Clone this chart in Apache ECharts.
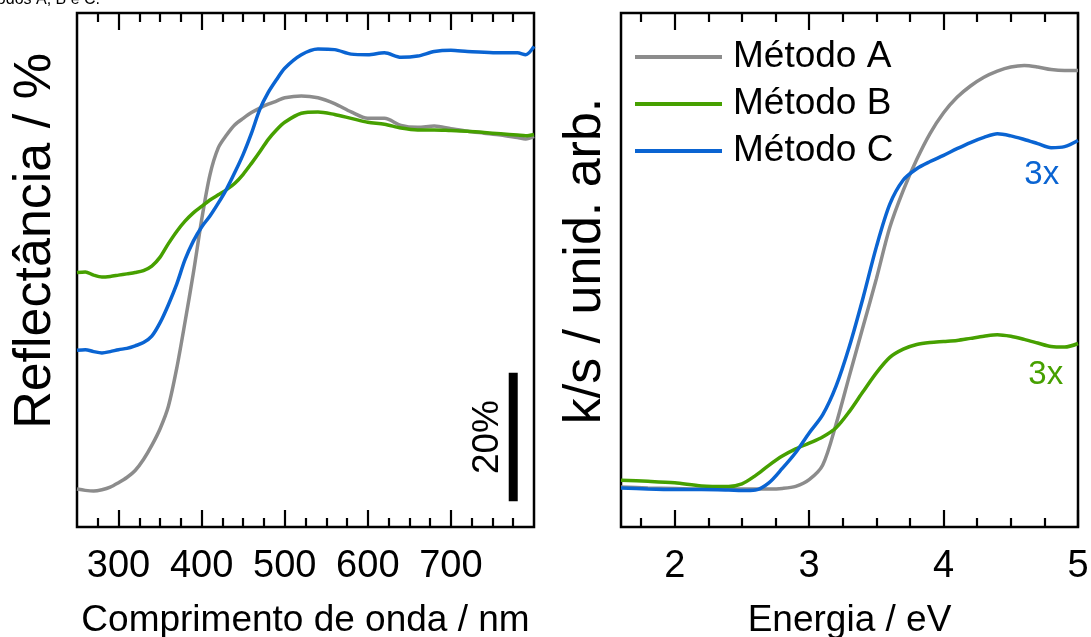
<!DOCTYPE html>
<html>
<head>
<meta charset="utf-8">
<script src="https://cdn.jsdelivr.net/npm/echarts@6/dist/echarts.min.js"></script>
<style>
  html, body { margin: 0; padding: 0; background: #fff; }
  #chart { width: 1091px; height: 637px; }
</style>
</head>
<body>
<div id="chart"></div>
<script>
// Diffuse reflectance spectra (left) and Kubelka-Munk k/s vs energy (right)
const wavelength = [250, 260, 270, 280, 290, 300, 310, 320, 330, 340, 350, 360, 370, 380, 390, 400,
  410, 420, 430, 440, 450, 460, 470, 480, 490, 500, 520, 540, 560, 580, 600, 620, 640, 660, 680, 700,
  720, 740, 760, 780, 790, 800];
const reflA = [5.9, 5.7, 5.6, 5.8, 6.2, 6.9, 7.7, 8.8, 10.5, 12.7, 15.3, 18.8, 24.7, 31.9, 39.5, 47.8,
  54.8, 59.0, 61.0, 62.6, 63.6, 64.5, 65.2, 65.8, 66.3, 66.8, 67.1, 66.8, 65.9, 64.6, 63.6, 63.6, 62.5, 62.2, 62.4, 62.0,
  61.6, 61.3, 61.0, 60.6, 60.4, 60.8];
const reflB = [39.6, 39.7, 39.2, 38.9, 39.0, 39.2, 39.4, 39.6, 39.9, 40.6, 42.0, 44.1, 46.0, 47.6, 48.9, 49.9,
  50.9, 51.7, 52.5, 53.5, 54.9, 56.6, 58.4, 60.3, 61.8, 63.0, 64.4, 64.6, 64.2, 63.6, 63.0, 62.7, 62.1, 61.8, 61.8, 61.7,
  61.6, 61.4, 61.2, 61.0, 60.9, 61.1];
const reflC = [27.5, 27.6, 27.3, 27.1, 27.3, 27.6, 27.8, 28.2, 28.7, 29.7, 31.8, 34.6, 37.8, 41.6, 44.5, 46.7,
  48.4, 50.4, 52.6, 55.2, 58.0, 61.3, 65.0, 67.6, 69.6, 71.4, 73.5, 74.4, 74.3, 73.6, 73.5, 73.8, 73.1, 73.3, 74.0, 74.2,
  74.0, 73.9, 73.8, 73.8, 73.5, 74.8];

const energy = [1.6, 1.8, 2.0, 2.2, 2.4, 2.5, 2.6, 2.7, 2.8, 2.9, 3.0, 3.1, 3.2, 3.3, 3.4, 3.5, 3.6, 3.7, 3.8, 3.9,
  4.0, 4.1, 4.2, 4.3, 4.4, 4.5, 4.6, 4.7, 4.8, 4.9, 5.0];
const ksA = [7.8, 7.6, 7.5, 7.4, 7.4, 7.4, 7.4, 7.4, 7.5, 7.9, 9.2, 12.0, 20.0, 29.5, 38.9, 48.3, 58.3, 65.5, 71.5, 76.6,
  80.6, 83.6, 85.8, 87.5, 88.7, 89.5, 89.8, 89.5, 89.0, 88.8, 88.8];
const ksB = [9.1, 8.9, 8.6, 8.0, 7.9, 8.4, 10.0, 12.0, 13.8, 15.2, 16.3, 17.5, 19.3, 22.5, 26.3, 30.0, 33.0, 34.6, 35.5, 35.9,
  36.1, 36.3, 36.7, 37.1, 37.4, 37.1, 36.5, 35.8, 35.1, 35.0, 35.7];
const ksC = [7.6, 7.4, 7.3, 7.3, 7.2, 7.1, 7.2, 8.6, 11.4, 14.5, 18.3, 21.8, 27.4, 35.2, 44.5, 54.5, 62.8, 67.5, 69.7, 71.1,
  72.3, 73.6, 74.8, 75.8, 76.5, 76.1, 75.4, 74.6, 73.8, 74.0, 75.2];

// scale bar: 20 % of reflectance
const scaleBarX = [775, 775];
const scaleBarY = [4, 24];

const nmMajor = [300, 400, 500, 600, 700];
const nmMinor = [275, 325, 350, 375, 425, 450, 475, 525, 550, 575, 625, 650, 675, 725, 750, 775];
const evMajor = [2, 3, 4, 5];
const evMinor = [1.75, 2.25, 2.5, 2.75, 3.25, 3.5, 3.75, 4.25, 4.5, 4.75];

const names = ['Método A', 'Método B', 'Método C'];
const colors = ['#8c8c8c', '#46a000', '#0a64d2'];
const FONT = 'Liberation Sans, Arial, sans-serif';

const zip = (xs, ys) => xs.map((x, i) => [x, ys[i]]);

function tickAxis(gridIndex, position, min, max, values, len, withLabels, name, nameGap) {
  const ax = {
    type: 'value', gridIndex, position, min, max,
    axisLine: { show: false },
    splitLine: { show: false },
    axisTick: { show: true, inside: true, length: len, customValues: values,
      lineStyle: { color: '#000', width: 2.2 } },
    axisLabel: { show: false }
  };
  if (withLabels) {
    ax.axisLabel = { show: true, customValues: values, margin: 21, color: '#000',
      fontSize: 38, fontFamily: FONT, showMinLabel: true, showMaxLabel: true };
    ax.name = name;
    ax.nameLocation = 'middle';
    ax.nameGap = nameGap;
    ax.nameTextStyle = { fontSize: 37, color: '#000', fontFamily: FONT };
  }
  return ax;
}

const chart = echarts.init(document.getElementById('chart'), null, { renderer: 'canvas' });

const series = [];
[reflA, reflB, reflC].forEach((d, i) => series.push({
  type: 'line', name: names[i], xAxisIndex: 0, yAxisIndex: 0,
  data: zip(wavelength, d), smooth: 0.3, symbol: 'none',
  lineStyle: { color: colors[i], width: 3.5 }, itemStyle: { color: colors[i] }
}));
[ksA, ksB, ksC].forEach((d, i) => series.push({
  type: 'line', name: names[i], xAxisIndex: 4, yAxisIndex: 1,
  data: zip(energy, d), smooth: 0.3, symbol: 'none',
  lineStyle: { color: colors[i], width: 3.5 }, itemStyle: { color: colors[i] }
}));
series.push({
  type: 'line', name: 'escala', xAxisIndex: 0, yAxisIndex: 0,
  data: zip(scaleBarX, scaleBarY), symbol: 'none',
  lineStyle: { color: '#000', width: 9, cap: 'butt' }, silent: true
});

const gridBase = { top: 13, width: 457, height: 514, show: true, borderColor: '#000', borderWidth: 2.5,
  containLabel: false, outerBoundsMode: 'none' };

chart.setOption({
  animation: false,
  backgroundColor: '#fff',
  textStyle: { fontFamily: FONT },
  grid: [
    Object.assign({ left: 77 }, gridBase),
    Object.assign({ left: 621 }, gridBase)
  ],
  xAxis: [
    tickAxis(0, 'bottom', 250, 800, nmMajor, 17, true, 'Comprimento de onda / nm', 75),
    tickAxis(0, 'bottom', 250, 800, nmMinor, 9, false),
    tickAxis(0, 'top', 250, 800, nmMajor, 17, false),
    tickAxis(0, 'top', 250, 800, nmMinor, 9, false),
    tickAxis(1, 'bottom', 1.6, 5.0, evMajor, 17, true, 'Energia / eV', 75),
    tickAxis(1, 'bottom', 1.6, 5.0, evMinor, 9, false),
    tickAxis(1, 'top', 1.6, 5.0, evMajor, 17, false),
    tickAxis(1, 'top', 1.6, 5.0, evMinor, 9, false)
  ],
  yAxis: [
    { type: 'value', gridIndex: 0, min: 0, max: 80, axisLine: { show: false }, axisTick: { show: false },
      axisLabel: { show: false }, splitLine: { show: false } },
    { type: 'value', gridIndex: 1, min: 0, max: 100, axisLine: { show: false }, axisTick: { show: false },
      axisLabel: { show: false }, splitLine: { show: false } }
  ],
  legend: {
    data: names, orient: 'vertical', left: 635, top: 37, padding: 0,
    icon: 'rect', itemWidth: 87, itemHeight: 4, itemGap: 7, selectedMode: false,
    textStyle: { fontSize: 37, lineHeight: 40, color: '#000', fontFamily: FONT, padding: [0, 0, 0, 6] }
  },
  series
});

// annotations placed through the axes' own scales
const barMid = chart.convertToPixel({ gridIndex: 0 }, [775, 14]);
const tagC = chart.convertToPixel({ gridIndex: 1 }, [4.73, 68.5]);
const tagB = chart.convertToPixel({ gridIndex: 1 }, [4.76, 29.6]);

chart.setOption({
  graphic: [
    { type: 'text', x: 100, y: 0, silent: true,
      style: { text: 'Métodos A, B e C.', align: 'right', verticalAlign: 'middle',
        fontSize: 16, fontFamily: FONT, fill: '#000' } },
    { type: 'text', x: 36, y: 241, rotation: Math.PI / 2, silent: true,
      style: { text: 'Reflectância / %', align: 'center', verticalAlign: 'middle',
        fontSize: 52, fontFamily: FONT, fill: '#000' } },
    { type: 'text', x: 586, y: 261, rotation: Math.PI / 2, silent: true,
      style: { text: 'k/s / unid. arb.', align: 'center', verticalAlign: 'middle',
        fontSize: 52, fontFamily: FONT, fill: '#000' } },
    { type: 'text', x: barMid[0] - 25, y: barMid[1], rotation: Math.PI / 2, silent: true,
      style: { text: '20%', align: 'center', verticalAlign: 'middle',
        fontSize: 37, fontFamily: FONT, fill: '#000' } },
    { type: 'text', x: tagC[0], y: tagC[1], silent: true,
      style: { text: '3x', align: 'center', verticalAlign: 'middle',
        fontSize: 33, fontFamily: FONT, fill: colors[2] } },
    { type: 'text', x: tagB[0], y: tagB[1], silent: true,
      style: { text: '3x', align: 'center', verticalAlign: 'middle',
        fontSize: 33, fontFamily: FONT, fill: colors[1] } }
  ]
});
</script>
</body>
</html>
